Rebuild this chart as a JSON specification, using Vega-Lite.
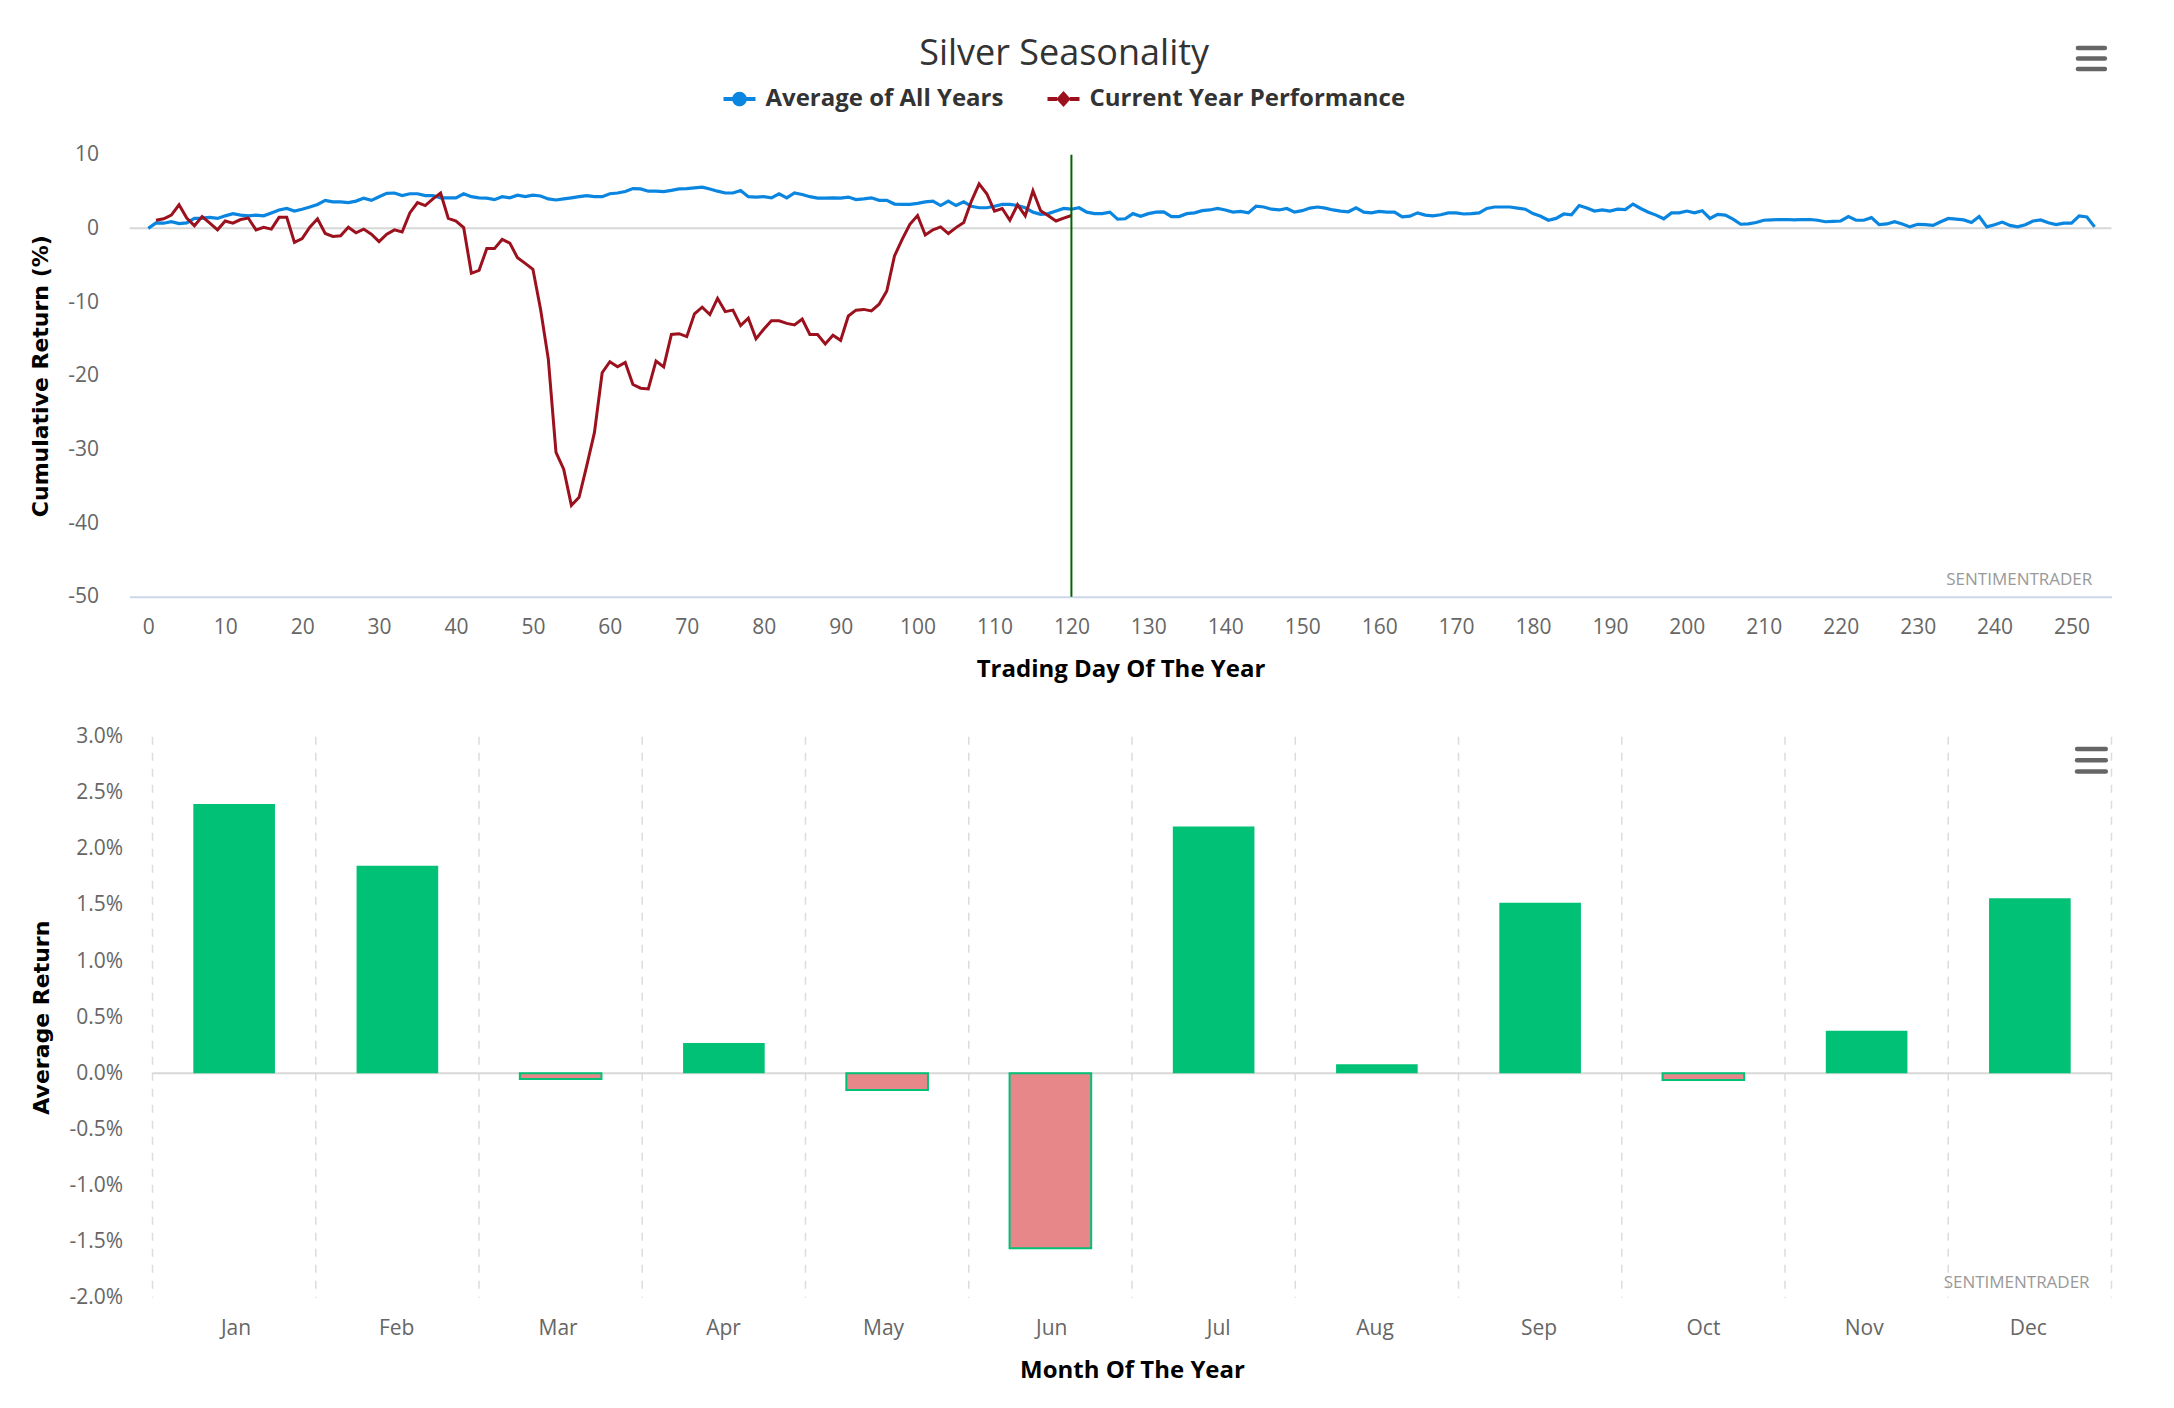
{
  "$schema": "https://vega.github.io/schema/vega-lite/v6.json",
  "background": "white",
  "padding": {"left": 29.5, "top": 35.7, "right": 60, "bottom": 20},
  "title": {
    "text": "Silver Seasonality",
    "font": "Open Sans",
    "fontSize": 36,
    "fontWeight": "normal",
    "color": "#333333",
    "anchor": "middle",
    "dx": -7,
    "offset": -27.1
  },
  "config": {
    "view": {"stroke": null},
    "font": "Open Sans"
  },
  "columns": 1,
  "align": "none",
  "spacing": 44,
  "datasets": {
    "avg": [
      {"d":0,"v":0},{"d":1,"v":0.75},{"d":2,"v":0.7},{"d":3,"v":0.9},{"d":4,"v":0.65},{"d":5,"v":0.75},{"d":6,"v":1.35},{"d":7,"v":1.4},{"d":8,"v":1.5},{"d":9,"v":1.35},
      {"d":10,"v":1.7},{"d":11,"v":2.0},{"d":12,"v":1.8},{"d":13,"v":1.7},{"d":14,"v":1.8},{"d":15,"v":1.7},{"d":16,"v":2.1},{"d":17,"v":2.5},{"d":18,"v":2.7},{"d":19,"v":2.35},
      {"d":20,"v":2.6},{"d":21,"v":2.9},{"d":22,"v":3.25},{"d":23,"v":3.8},{"d":24,"v":3.6},{"d":25,"v":3.6},{"d":26,"v":3.5},{"d":27,"v":3.7},{"d":28,"v":4.1},{"d":29,"v":3.8},
      {"d":30,"v":4.3},{"d":31,"v":4.75},{"d":32,"v":4.8},{"d":33,"v":4.45},{"d":34,"v":4.7},{"d":35,"v":4.7},{"d":36,"v":4.45},{"d":37,"v":4.45},{"d":38,"v":4.15},{"d":39,"v":4.15},
      {"d":40,"v":4.15},{"d":41,"v":4.7},{"d":42,"v":4.3},{"d":43,"v":4.15},{"d":44,"v":4.1},{"d":45,"v":3.9},{"d":46,"v":4.3},{"d":47,"v":4.15},{"d":48,"v":4.5},{"d":49,"v":4.3},
      {"d":50,"v":4.5},{"d":51,"v":4.4},{"d":52,"v":4.0},{"d":53,"v":3.85},{"d":54,"v":4.0},{"d":55,"v":4.15},{"d":56,"v":4.3},{"d":57,"v":4.45},{"d":58,"v":4.3},{"d":59,"v":4.3},
      {"d":60,"v":4.7},{"d":61,"v":4.8},{"d":62,"v":5.0},{"d":63,"v":5.4},{"d":64,"v":5.35},{"d":65,"v":5.05},{"d":66,"v":5.05},{"d":67,"v":5.0},{"d":68,"v":5.15},{"d":69,"v":5.35},
      {"d":70,"v":5.4},{"d":71,"v":5.5},{"d":72,"v":5.6},{"d":73,"v":5.35},{"d":74,"v":5.05},{"d":75,"v":4.8},{"d":76,"v":4.8},{"d":77,"v":5.15},{"d":78,"v":4.3},{"d":79,"v":4.25},
      {"d":80,"v":4.3},{"d":81,"v":4.15},{"d":82,"v":4.7},{"d":83,"v":4.15},{"d":84,"v":4.8},{"d":85,"v":4.6},{"d":86,"v":4.3},{"d":87,"v":4.1},{"d":88,"v":4.1},{"d":89,"v":4.15},
      {"d":90,"v":4.1},{"d":91,"v":4.25},{"d":92,"v":3.9},{"d":93,"v":4.0},{"d":94,"v":4.15},{"d":95,"v":3.8},{"d":96,"v":3.8},{"d":97,"v":3.3},{"d":98,"v":3.25},{"d":99,"v":3.25},
      {"d":100,"v":3.4},{"d":101,"v":3.6},{"d":102,"v":3.7},{"d":103,"v":3.1},{"d":104,"v":3.7},{"d":105,"v":3.1},{"d":106,"v":3.6},{"d":107,"v":3.0},{"d":108,"v":2.8},{"d":109,"v":2.8},
      {"d":110,"v":3.0},{"d":111,"v":3.25},{"d":112,"v":3.25},{"d":113,"v":3.1},{"d":114,"v":2.8},{"d":115,"v":2.2},{"d":116,"v":1.9},{"d":117,"v":2.0},{"d":118,"v":2.35},{"d":119,"v":2.7},
      {"d":120,"v":2.6},{"d":121,"v":2.8},{"d":122,"v":2.2},{"d":123,"v":2.0},{"d":124,"v":2.0},{"d":125,"v":2.2},{"d":126,"v":1.25},{"d":127,"v":1.3},{"d":128,"v":2.0},{"d":129,"v":1.65},
      {"d":130,"v":2.0},{"d":131,"v":2.2},{"d":132,"v":2.25},{"d":133,"v":1.6},{"d":134,"v":1.6},{"d":135,"v":2.0},{"d":136,"v":2.1},{"d":137,"v":2.4},{"d":138,"v":2.5},{"d":139,"v":2.7},
      {"d":140,"v":2.5},{"d":141,"v":2.2},{"d":142,"v":2.3},{"d":143,"v":2.1},{"d":144,"v":3.0},{"d":145,"v":2.9},{"d":146,"v":2.6},{"d":147,"v":2.5},{"d":148,"v":2.7},{"d":149,"v":2.2},
      {"d":150,"v":2.4},{"d":151,"v":2.75},{"d":152,"v":2.9},{"d":153,"v":2.75},{"d":154,"v":2.5},{"d":155,"v":2.35},{"d":156,"v":2.25},{"d":157,"v":2.8},{"d":158,"v":2.2},{"d":159,"v":2.1},
      {"d":160,"v":2.3},{"d":161,"v":2.2},{"d":162,"v":2.2},{"d":163,"v":1.55},{"d":164,"v":1.65},{"d":165,"v":2.1},{"d":166,"v":1.8},{"d":167,"v":1.7},{"d":168,"v":1.85},{"d":169,"v":2.1},
      {"d":170,"v":2.1},{"d":171,"v":1.95},{"d":172,"v":2.0},{"d":173,"v":2.1},{"d":174,"v":2.7},{"d":175,"v":2.9},{"d":176,"v":2.9},{"d":177,"v":2.9},{"d":178,"v":2.75},{"d":179,"v":2.6},
      {"d":180,"v":2.0},{"d":181,"v":1.65},{"d":182,"v":1.1},{"d":183,"v":1.35},{"d":184,"v":1.95},{"d":185,"v":1.85},{"d":186,"v":3.1},{"d":187,"v":2.75},{"d":188,"v":2.35},{"d":189,"v":2.5},
      {"d":190,"v":2.35},{"d":191,"v":2.6},{"d":192,"v":2.55},{"d":193,"v":3.3},{"d":194,"v":2.7},{"d":195,"v":2.2},{"d":196,"v":1.8},{"d":197,"v":1.3},{"d":198,"v":2.1},{"d":199,"v":2.1},
      {"d":200,"v":2.35},{"d":201,"v":2.1},{"d":202,"v":2.4},{"d":203,"v":1.35},{"d":204,"v":1.9},{"d":205,"v":1.8},{"d":206,"v":1.25},{"d":207,"v":0.56},{"d":208,"v":0.6},{"d":209,"v":0.8},
      {"d":210,"v":1.1},{"d":211,"v":1.15},{"d":212,"v":1.2},{"d":213,"v":1.2},{"d":214,"v":1.15},{"d":215,"v":1.2},{"d":216,"v":1.2},{"d":217,"v":1.1},{"d":218,"v":0.9},{"d":219,"v":0.95},
      {"d":220,"v":1.0},{"d":221,"v":1.6},{"d":222,"v":1.1},{"d":223,"v":1.1},{"d":224,"v":1.45},{"d":225,"v":0.5},{"d":226,"v":0.6},{"d":227,"v":0.9},{"d":228,"v":0.6},{"d":229,"v":0.2},
      {"d":230,"v":0.55},{"d":231,"v":0.5},{"d":232,"v":0.4},{"d":233,"v":0.9},{"d":234,"v":1.35},{"d":235,"v":1.25},{"d":236,"v":1.15},{"d":237,"v":0.8},{"d":238,"v":1.6},{"d":239,"v":0.2},
      {"d":240,"v":0.5},{"d":241,"v":0.85},{"d":242,"v":0.4},{"d":243,"v":0.2},{"d":244,"v":0.5},{"d":245,"v":1.0},{"d":246,"v":1.15},{"d":247,"v":0.75},{"d":248,"v":0.5},{"d":249,"v":0.7},
      {"d":250,"v":0.7},{"d":251,"v":1.7},{"d":252,"v":1.55},{"d":253,"v":0.2}
    ],
    "cur": [
      {"d":1,"v":1.1},{"d":2,"v":1.3},{"d":3,"v":1.8},{"d":4,"v":3.2},{"d":5,"v":1.4},{"d":6,"v":0.35},{"d":7,"v":1.6},{"d":8,"v":0.7},{"d":9,"v":-0.2},
      {"d":10,"v":1.0},{"d":11,"v":0.7},{"d":12,"v":1.2},{"d":13,"v":1.4},{"d":14,"v":-0.2},{"d":15,"v":0.15},{"d":16,"v":-0.1},{"d":17,"v":1.5},{"d":18,"v":1.5},{"d":19,"v":-1.9},
      {"d":20,"v":-1.4},{"d":21,"v":0.15},{"d":22,"v":1.3},{"d":23,"v":-0.7},{"d":24,"v":-1.1},{"d":25,"v":-1.0},{"d":26,"v":0.15},{"d":27,"v":-0.6},{"d":28,"v":-0.1},{"d":29,"v":-0.8},
      {"d":30,"v":-1.8},{"d":31,"v":-0.8},{"d":32,"v":-0.2},{"d":33,"v":-0.5},{"d":34,"v":2.1},{"d":35,"v":3.5},{"d":36,"v":3.1},{"d":37,"v":4.0},{"d":38,"v":4.8},{"d":39,"v":1.35},
      {"d":40,"v":1.0},{"d":41,"v":0.1},{"d":42,"v":-6.1},{"d":43,"v":-5.7},{"d":44,"v":-2.75},{"d":45,"v":-2.75},{"d":46,"v":-1.5},{"d":47,"v":-2.0},{"d":48,"v":-4.0},{"d":49,"v":-4.75},
      {"d":50,"v":-5.55},{"d":51,"v":-11.0},{"d":52,"v":-17.75},{"d":53,"v":-30.4},{"d":54,"v":-32.7},{"d":55,"v":-37.6},{"d":56,"v":-36.5},{"d":57,"v":-32.2},{"d":58,"v":-27.7},{"d":59,"v":-19.6},
      {"d":60,"v":-18.1},{"d":61,"v":-18.8},{"d":62,"v":-18.2},{"d":63,"v":-21.2},{"d":64,"v":-21.7},{"d":65,"v":-21.8},{"d":66,"v":-18.0},{"d":67,"v":-18.8},{"d":68,"v":-14.4},{"d":69,"v":-14.3},
      {"d":70,"v":-14.7},{"d":71,"v":-11.6},{"d":72,"v":-10.7},{"d":73,"v":-11.7},{"d":74,"v":-9.5},{"d":75,"v":-11.3},{"d":76,"v":-11.1},{"d":77,"v":-13.2},{"d":78,"v":-12.2},{"d":79,"v":-15.0},
      {"d":80,"v":-13.7},{"d":81,"v":-12.55},{"d":82,"v":-12.55},{"d":83,"v":-12.9},{"d":84,"v":-13.1},{"d":85,"v":-12.3},{"d":86,"v":-14.4},{"d":87,"v":-14.4},{"d":88,"v":-15.7},{"d":89,"v":-14.5},
      {"d":90,"v":-15.2},{"d":91,"v":-11.9},{"d":92,"v":-11.1},{"d":93,"v":-11.0},{"d":94,"v":-11.2},{"d":95,"v":-10.3},{"d":96,"v":-8.5},{"d":97,"v":-3.75},{"d":98,"v":-1.5},{"d":99,"v":0.55},
      {"d":100,"v":1.75},{"d":101,"v":-0.9},{"d":102,"v":-0.2},{"d":103,"v":0.2},{"d":104,"v":-0.7},{"d":105,"v":0.1},{"d":106,"v":0.8},{"d":107,"v":3.7},{"d":108,"v":6.05},{"d":109,"v":4.7},
      {"d":110,"v":2.35},{"d":111,"v":2.7},{"d":112,"v":1.1},{"d":113,"v":3.2},{"d":114,"v":1.7},{"d":115,"v":5.1},{"d":116,"v":2.4},{"d":117,"v":1.7},{"d":118,"v":1.0},{"d":119,"v":1.4},
      {"d":120,"v":1.75}
    ],
    "months": [
      {"m":"Jan","r":2.40},{"m":"Feb","r":1.85},{"m":"Mar","r":-0.05},{"m":"Apr","r":0.27},
      {"m":"May","r":-0.15},{"m":"Jun","r":-1.56},{"m":"Jul","r":2.20},{"m":"Aug","r":0.08},
      {"m":"Sep","r":1.52},{"m":"Oct","r":-0.06},{"m":"Nov","r":0.38},{"m":"Dec","r":1.56}
    ]
  },
  "concat": [
    {
      "width": 1982,
      "height": 442,
      "layer": [
        {
          "data": {"values": [{}]},
          "mark": {"type": "rule", "color": "#d8d8d8", "strokeWidth": 2},
          "encoding": {"y": {"datum": 0, "type": "quantitative"}}
        },
        {
          "data": {"name": "avg"},
          "mark": {"type": "line", "strokeWidth": 3.2},
          "encoding": {
            "x": {
              "field": "d",
              "type": "quantitative",
              "scale": {"domain": [-2.44, 255.2], "nice": false, "zero": false},
              "axis": {
                "values": [0,10,20,30,40,50,60,70,80,90,100,110,120,130,140,150,160,170,180,190,200,210,220,230,240,250],
                "grid": false,
                "ticks": false,
                "domainColor": "#ccd6eb",
                "domainWidth": 2,
                "labelFont": "Open Sans",
                "labelFontSize": 21,
                "labelColor": "#666666",
                "labelPadding": 20,
                "title": "Trading Day Of The Year",
                "titleFont": "Open Sans",
                "titleFontSize": 24,
                "titleFontWeight": "bold",
                "titleColor": "#000000",
                "titlePadding": 20
              }
            },
            "y": {
              "field": "v",
              "type": "quantitative",
              "scale": {"domain": [-50, 10], "nice": false, "zero": false},
              "axis": {
                "values": [-50,-40,-30,-20,-10,0,10],
                "labelExpr": "(datum.value < 0 ? '-' : '') + abs(datum.value)",
                "grid": false,
                "ticks": false,
                "domain": false,
                "labelFont": "Open Sans",
                "labelFontSize": 21,
                "labelColor": "#666666",
                "labelPadding": 31,
                "title": "Cumulative Return (%)",
                "titleFont": "DejaVu Sans",
                "titleFontSize": 22,
                "titleFontWeight": "bold",
                "titleColor": "#000000",
                "titlePadding": 15
              }
            },
            "color": {
              "datum": "Average of All Years",
              "type": "nominal",
              "scale": {
                "domain": ["Average of All Years", "Current Year Performance"],
                "range": ["#0a85e0", "#9b111e"]
              },
              "legend": {
                "orient": "none",
                "legendX": 594,
                "legendY": -71.7,
                "direction": "horizontal",
                "title": null,
                "labelFont": "Open Sans",
                "labelFontSize": 24,
                "labelFontWeight": "bold",
                "labelColor": "#333333",
                "labelLimit": 500,
                "labelOffset": 10,
                "columnPadding": 43,
                "symbolSize": 1024,
                "encode": {
                  "symbols": {
                    "update": {
                      "shape": {"signal": "datum.value == 'Average of All Years' ? 'M-1,-0.12H-0.4V0.12H-1Z M0.4,-0.12H1V0.12H0.4Z M-0.46,0A0.46,0.46 0 1,1 0.46,0A0.46,0.46 0 1,1 -0.46,0Z' : 'M-1,-0.12H-0.4V0.12H-1Z M0.4,-0.12H1V0.12H0.4Z M0,-0.5L0.45,0L0,0.5L-0.45,0Z'"},
                      "fill": {"scale": "color", "field": "value"},
                      "stroke": {"value": "transparent"},
                      "strokeWidth": {"value": 0},
                      "opacity": {"value": 1}
                    }
                  }
                }
              }
            }
          }
        },
        {
          "data": {"name": "cur"},
          "mark": {"type": "line", "strokeWidth": 3},
          "encoding": {
            "x": {"field": "d", "type": "quantitative"},
            "y": {"field": "v", "type": "quantitative"},
            "color": {"datum": "Current Year Performance", "type": "nominal"}
          }
        },
        {
          "data": {"values": [{}]},
          "mark": {"type": "rule", "color": "#006400", "strokeWidth": 2},
          "encoding": {"x": {"datum": 120, "type": "quantitative"}}
        },
        {
          "data": {"values": [{"t": "SENTIMENTRADER"}]},
          "mark": {"type": "text", "align": "right", "baseline": "middle", "font": "Open Sans", "fontSize": 17, "color": "#999999"},
          "encoding": {
            "x": {"datum": 252.7, "type": "quantitative"},
            "y": {"datum": -47.8, "type": "quantitative"},
            "text": {"field": "t"}
          }
        },
        {
          "data": {"values": [{}]},
          "mark": {"type": "rule", "color": "#666666", "strokeWidth": 4.5, "strokeCap": "round"},
          "encoding": {
            "x": {"datum": 250.84, "type": "quantitative"},
            "x2": {"datum": 254.34},
            "y": {"datum": 24.47, "type": "quantitative"}
          }
        },
        {
          "data": {"values": [{}]},
          "mark": {"type": "rule", "color": "#666666", "strokeWidth": 4.5, "strokeCap": "round"},
          "encoding": {
            "x": {"datum": 250.84, "type": "quantitative"},
            "x2": {"datum": 254.34},
            "y": {"datum": 23.06, "type": "quantitative"}
          }
        },
        {
          "data": {"values": [{}]},
          "mark": {"type": "rule", "color": "#666666", "strokeWidth": 4.5, "strokeCap": "round"},
          "encoding": {
            "x": {"datum": 250.84, "type": "quantitative"},
            "x2": {"datum": 254.34},
            "y": {"datum": 21.65, "type": "quantitative"}
          }
        }
      ]
    },
    {
      "width": 1982,
      "height": 561,
      "data": {"name": "months"},
      "layer": [
        {
          "mark": {"type": "rule", "color": "#dcdcdc", "strokeWidth": 1.5, "strokeDash": [8, 8]},
          "encoding": {
            "x": {"field": "m", "type": "nominal", "sort": null, "bandPosition": 0}
          }
        },
        {
          "transform": [{"filter": "datum.m == 'Dec'"}],
          "mark": {"type": "rule", "color": "#dcdcdc", "strokeWidth": 1.5, "strokeDash": [8, 8]},
          "encoding": {
            "x": {"field": "m", "type": "nominal", "sort": null, "bandPosition": 1}
          }
        },
        {
          "transform": [{"filter": "datum.m == 'Jan'"}],
          "mark": {"type": "rule", "color": "#d8d8d8", "strokeWidth": 2},
          "encoding": {
            "x": {"datum": "Jan", "type": "nominal", "bandPosition": 0},
            "x2": {"datum": "Dec", "bandPosition": 1},
            "y": {"datum": 0, "type": "quantitative"}
          }
        },
        {
          "mark": {"type": "bar", "width": {"band": 0.5}, "strokeWidth": 2},
          "encoding": {
            "x": {
              "field": "m",
              "type": "nominal",
              "sort": null,
              "scale": {"paddingInner": 0, "paddingOuter": 0.0705, "align": 1},
              "axis": {
                "labelAngle": 0,
                "labelOffset": 17,
                "ticks": false,
                "domain": false,
                "grid": false,
                "labelFont": "Open Sans",
                "labelFontSize": 21,
                "labelColor": "#666666",
                "labelPadding": 31,
                "title": "Month Of The Year",
                "titleX": 1002.5,
                "titleFont": "Open Sans",
                "titleFontSize": 24,
                "titleFontWeight": "bold",
                "titleColor": "#000000",
                "titlePadding": 20
              }
            },
            "y": {
              "field": "r",
              "type": "quantitative",
              "scale": {"domain": [-2, 3], "nice": false, "zero": false},
              "axis": {
                "values": [-2,-1.5,-1,-0.5,0,0.5,1,1.5,2,2.5,3],
                "labelExpr": "(datum.value < 0 ? '-' : '') + format(abs(datum.value), '.1f') + '%'",
                "grid": false,
                "ticks": false,
                "domain": false,
                "labelFont": "Open Sans",
                "labelFontSize": 21,
                "labelColor": "#666666",
                "labelPadding": 7,
                "title": "Average Return",
                "titleFont": "DejaVu Sans",
                "titleFontSize": 22,
                "titleFontWeight": "bold",
                "titleColor": "#000000",
                "titlePadding": 15
              }
            },
            "fill": {"condition": {"test": "datum.r < 0", "value": "#e8878a"}, "value": "#00c176"},
            "stroke": {"condition": {"test": "datum.r < 0", "value": "#00c176"}, "value": "transparent"}
          }
        },
        {
          "transform": [{"filter": "datum.m == 'Dec'"}],
          "mark": {"type": "text", "align": "right", "baseline": "middle", "font": "Open Sans", "fontSize": 17, "color": "#999999"},
          "encoding": {
            "x": {"field": "m", "type": "nominal", "sort": null, "bandPosition": 0.866},
            "y": {"datum": -1.87, "type": "quantitative"},
            "text": {"value": "SENTIMENTRADER"}
          }
        },
        {
          "transform": [{"filter": "datum.m == 'Dec'"}],
          "mark": {"type": "rule", "color": "#666666", "strokeWidth": 4.5, "strokeCap": "round"},
          "encoding": {
            "x": {"field": "m", "type": "nominal", "sort": null, "bandPosition": 0.789},
            "x2": {"datum": "Dec", "bandPosition": 0.965},
            "y": {"datum": 2.89, "type": "quantitative"}
          }
        },
        {
          "transform": [{"filter": "datum.m == 'Dec'"}],
          "mark": {"type": "rule", "color": "#666666", "strokeWidth": 4.5, "strokeCap": "round"},
          "encoding": {
            "x": {"field": "m", "type": "nominal", "sort": null, "bandPosition": 0.789},
            "x2": {"datum": "Dec", "bandPosition": 0.965},
            "y": {"datum": 2.79, "type": "quantitative"}
          }
        },
        {
          "transform": [{"filter": "datum.m == 'Dec'"}],
          "mark": {"type": "rule", "color": "#666666", "strokeWidth": 4.5, "strokeCap": "round"},
          "encoding": {
            "x": {"field": "m", "type": "nominal", "sort": null, "bandPosition": 0.789},
            "x2": {"datum": "Dec", "bandPosition": 0.965},
            "y": {"datum": 2.69, "type": "quantitative"}
          }
        }
      ]
    }
  ]
}
